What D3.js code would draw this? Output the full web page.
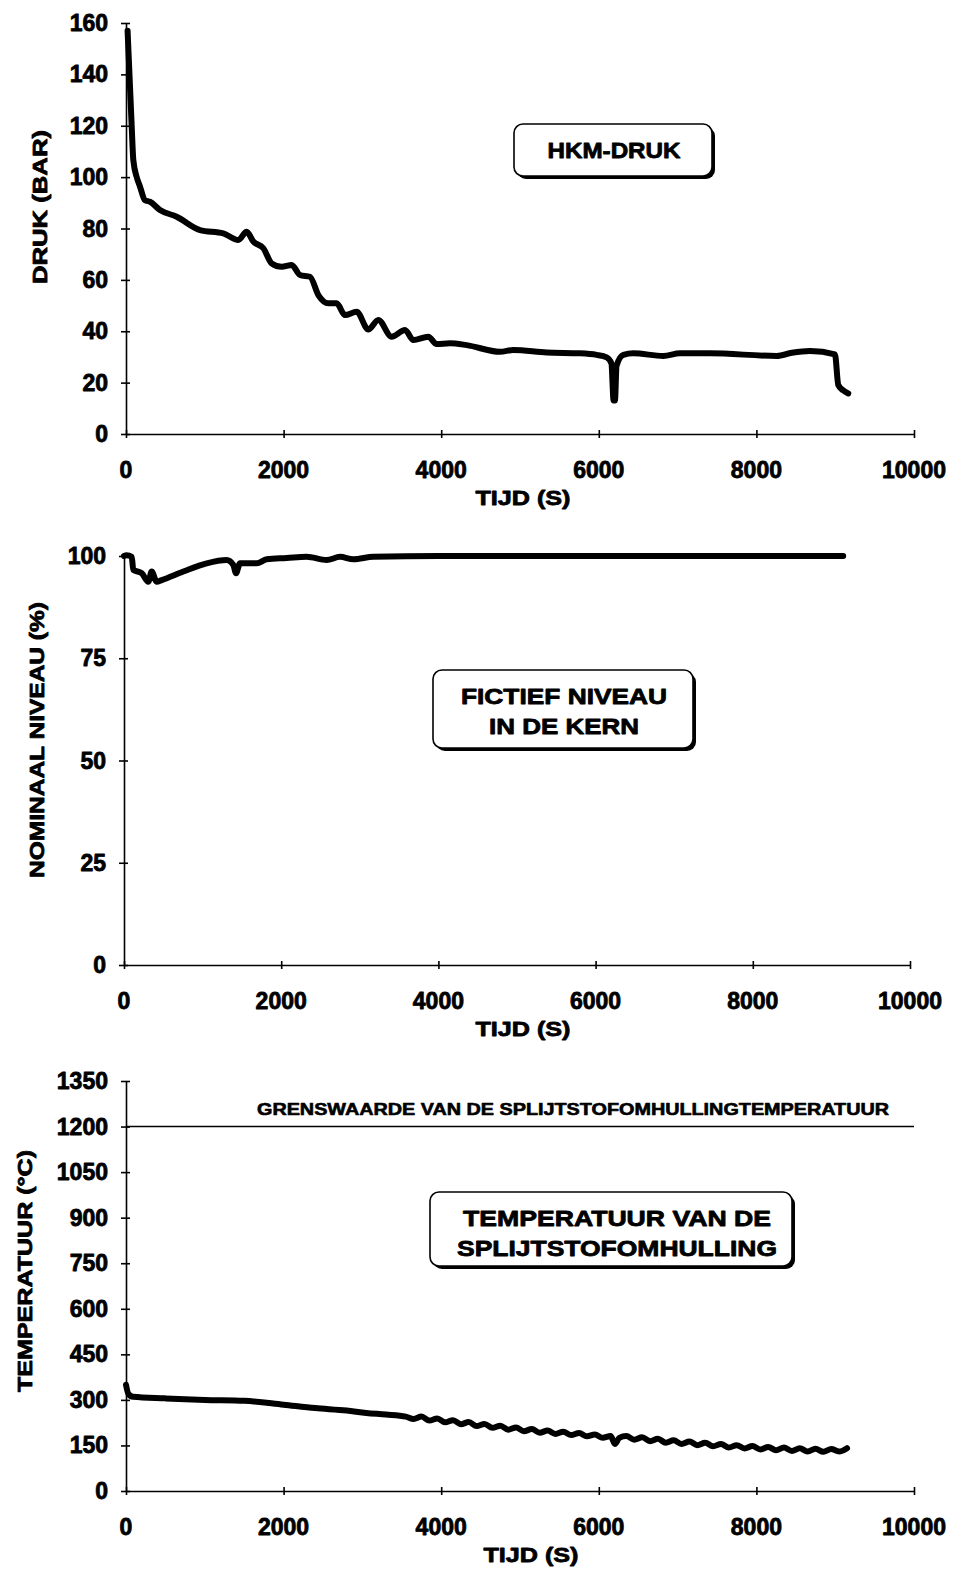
<!DOCTYPE html>
<html>
<head>
<meta charset="utf-8">
<script src="https://cdn.jsdelivr.net/npm/d3@7"></script>
<style>
  html, body { margin: 0; padding: 0; background: #fff; }
  svg { display: block; }
  text { font-family: "Liberation Sans", Arial, Helvetica, sans-serif; font-weight: bold; fill: #000;
         stroke: #000; stroke-width: 0.8px; stroke-linejoin: round; }
</style>
</head>
<body>
<svg id="chart" width="956" height="1570"></svg>
<script>
// ---- Data ----
// Panel 1: primary circuit pressure (bar) vs time (s)
const pressureTime = [20, 72, 93, 136, 178, 241, 305, 431, 643, 939, 1235, 1426, 1531, 1616, 1743, 1849, 1976, 2103, 2208, 2335, 2441, 2568, 2673, 2779, 2927, 3075, 3202, 3371, 3541, 3646, 3836, 3942, 4112, 4323, 4746, 4915, 5339, 5761, 5973, 6100, 6160, 6188, 6205, 6225, 6311, 6438, 6819, 7030, 7411, 8258, 8450, 8680, 8997, 9039, 9100, 9166];
const pressureBar  = [157, 120, 106.6, 100, 96.3, 91, 90.4, 87.2, 84.6, 79.4, 78.1, 75.5, 78.7, 74.9, 72.3, 66.4, 65.1, 65.8, 61.9, 61.2, 54.1, 50.9, 50.9, 46.3, 47.6, 40.7, 44.4, 37.9, 40.5, 36.6, 37.9, 35.0, 35.3, 34.6, 32.0, 32.7, 31.7, 31.4, 30.8, 29.8, 27.5, 13, 13, 26.5, 30.8, 31.4, 30.4, 31.4, 31.4, 30.4, 31.6, 32.3, 31.0, 19.1, 17, 15.8];

// Panel 2: nominal core level (%) vs time (s)
const levelTime = [0, 34, 98, 118, 225, 309, 352, 416, 480, 755, 1052, 1307, 1391, 1425, 1476, 1688, 1815, 2070, 2324, 2579, 2748, 2918, 3172, 4000, 9150];
const levelPct  = [100, 100.2, 99.8, 96.6, 95.8, 93.7, 96.2, 93.7, 94.1, 96.2, 98.2, 99.0, 97.8, 95.8, 98.2, 98.2, 99.2, 99.5, 99.8, 99.0, 99.8, 99.2, 99.8, 100, 100];

// Panel 3: fuel cladding temperature (°C) vs time (s)
const tempTime = [0, 30, 90, 500, 1000, 1500, 2000, 2400, 2800, 3050, 3300, 3550,
  3650, 3750, 3850, 3950, 4050, 4150, 4250, 4350, 4450, 4550, 4650, 4750, 4850, 4950,
  5050, 5150, 5250, 5350, 5450, 5550, 5650, 5750, 5850, 5950, 6050, 6150, 6205, 6260,
  6350, 6450, 6550, 6650, 6750, 6850, 6950, 7050, 7150, 7250, 7350, 7450, 7550, 7650,
  7750, 7850, 7950, 8050, 8150, 8250, 8350, 8450, 8550, 8650, 8750, 8850, 8950, 9050, 9150];
const tempC = [350, 320, 310, 305, 300, 297, 284, 273, 265, 257, 252, 245,
  237, 245, 232, 239, 226, 233, 220, 227, 214, 221, 208, 215, 202, 209,
  197, 204, 192, 199, 188, 195, 184, 191, 180, 186, 175, 181, 155, 175,
  181, 169, 177, 164, 172, 159, 167, 155, 163, 151, 159, 147, 155, 143,
  151, 140, 148, 137, 145, 134, 143, 132, 141, 130, 139, 129, 138, 130, 141];
const tempLimit = 1200;

// Tick labels
const timeTicks = [0, 2000, 4000, 6000, 8000, 10000];
const pressureTicks = [0, 20, 40, 60, 80, 100, 120, 140, 160];
const levelTicks = [0, 25, 50, 75, 100];
const tempTicks = [0, 150, 300, 450, 600, 750, 900, 1050, 1200, 1350];

// Texts
const xTitle = "TIJD (S)";
const pressureTitle = "DRUK (BAR)";
const levelTitle = "NOMINAAL NIVEAU (%)";
const tempTitle = "TEMPERATUUR (°C)";
const pressureLabel = ["HKM-DRUK"];
const levelLabel = ["FICTIEF NIVEAU", "IN DE KERN"];
const tempLabel = ["TEMPERATUUR VAN DE", "SPLIJTSTOFOMHULLING"];
const limitLabel = "GRENSWAARDE VAN DE SPLIJTSTOFOMHULLINGTEMPERATUUR";

// ---- Drawing ----
const svg = d3.select("#chart");

function panel(cfg) {
  const g = svg.append("g");
  const x = d3.scaleLinear().domain([0, 10000]).range([cfg.x0, cfg.x1]);
  const y = d3.scaleLinear().domain(cfg.yDomain).range([cfg.y0, cfg.y1]);

  // x axis with ticks crossing the line
  const xa = g.append("g").attr("transform", `translate(0,${cfg.y0})`)
    .call(d3.axisBottom(x).tickValues(timeTicks).tickSize(0).tickPadding(0).tickFormat(""));
  xa.select(".domain").attr("stroke", "#000").attr("stroke-width", 1.6);
  xa.selectAll(".tick line").attr("y1", -4).attr("y2", 4).attr("stroke", "#000").attr("stroke-width", 1.6);
  g.selectAll(".xlab").data(timeTicks).enter().append("text")
    .attr("x", d => x(d)).attr("y", cfg.y0 + 44)
    .attr("text-anchor", "middle").attr("font-size", 23)
    .text(d => d);

  // y axis
  const ya = g.append("g").attr("transform", `translate(${cfg.x0},0)`)
    .call(d3.axisLeft(y).tickValues(cfg.yTicks).tickSize(0).tickPadding(0).tickFormat(""));
  ya.select(".domain").attr("stroke", "#000").attr("stroke-width", 1.6);
  ya.selectAll(".tick line").attr("x1", -5).attr("x2", 4).attr("stroke", "#000").attr("stroke-width", 1.6);
  g.selectAll(".ylab").data(cfg.yTicks).enter().append("text")
    .attr("x", cfg.x0 - 18).attr("y", d => y(d) + 8)
    .attr("text-anchor", "end").attr("font-size", 23)
    .text(d => d);

  // axis titles
  g.append("text").attr("x", cfg.xTitleX).attr("y", cfg.y0 + 71)
    .attr("text-anchor", "middle").attr("font-size", 21)
    .attr("textLength", 95).attr("lengthAdjust", "spacingAndGlyphs")
    .text(xTitle);
  g.append("text")
    .attr("transform", `translate(${cfg.yTitleX},${cfg.yTitleY}) rotate(-90)`)
    .attr("text-anchor", "middle").attr("font-size", 21)
    .attr("textLength", cfg.yTitleLen).attr("lengthAdjust", "spacingAndGlyphs")
    .text(cfg.yTitle);

  return { g, x, y };
}

function labelBox(g, box, lines, lens) {
  g.append("rect").attr("x", box.x + 3).attr("y", box.y + 3)
    .attr("width", box.w).attr("height", box.h).attr("rx", 9)
    .attr("fill", "#000");
  g.append("rect").attr("x", box.x).attr("y", box.y)
    .attr("width", box.w).attr("height", box.h).attr("rx", 9)
    .attr("fill", "#fff").attr("stroke", "#000").attr("stroke-width", 1.6);
  lines.forEach((t, i) => {
    g.append("text").attr("x", box.cx).attr("y", box.ty + i * 30)
      .attr("text-anchor", "middle").attr("font-size", 22)
      .attr("textLength", lens[i]).attr("lengthAdjust", "spacingAndGlyphs")
      .text(t);
  });
}

function series(p, xs, ys, width) {
  const pts = xs.map((t, i) => [t, ys[i]]);
  p.g.append("path").datum(pts)
    .attr("fill", "none").attr("stroke", "#000")
    .attr("stroke-width", width)
    .attr("stroke-linejoin", "round").attr("stroke-linecap", "round")
    .attr("d", d3.line().x(d => p.x(d[0])).y(d => p.y(d[1])).curve(d3.curveMonotoneX));
}

// Panel 1
const p1 = panel({ x0: 126, x1: 914, y0: 434, y1: 23, yDomain: [0, 160], yTicks: pressureTicks,
  yTitle: pressureTitle, yTitleX: 47, yTitleY: 207, yTitleLen: 154, xTitleX: 523 });
labelBox(p1.g, { x: 514, y: 124, w: 198, h: 52, cx: 614, ty: 158 }, pressureLabel, [133]);
series(p1, pressureTime, pressureBar, 6);

// Panel 2
const p2 = panel({ x0: 124, x1: 910, y0: 965, y1: 556, yDomain: [0, 100], yTicks: levelTicks,
  yTitle: levelTitle, yTitleX: 44, yTitleY: 740, yTitleLen: 276, xTitleX: 523 });
labelBox(p2.g, { x: 433, y: 670, w: 260, h: 78, cx: 564, ty: 704 }, levelLabel, [206, 150]);
series(p2, levelTime, levelPct, 6);

// Panel 3
const p3 = panel({ x0: 126, x1: 914, y0: 1491, y1: 1081, yDomain: [0, 1350], yTicks: tempTicks,
  yTitle: tempTitle, yTitleX: 32, yTitleY: 1271, yTitleLen: 242, xTitleX: 531 });
p3.g.append("line")
  .attr("x1", p3.x(0)).attr("x2", p3.x(10000))
  .attr("y1", p3.y(tempLimit)).attr("y2", p3.y(tempLimit))
  .attr("stroke", "#000").attr("stroke-width", 1.6);
p3.g.append("text").attr("x", 573).attr("y", p3.y(tempLimit) - 12)
  .attr("text-anchor", "middle").attr("font-size", 16)
  .attr("textLength", 632).attr("lengthAdjust", "spacingAndGlyphs")
  .style("stroke-width", "0.6px")
  .text(limitLabel);
labelBox(p3.g, { x: 430, y: 1192, w: 362, h: 74, cx: 617, ty: 1226 }, tempLabel, [308, 320]);
series(p3, tempTime, tempC, 6);
</script>
</body>
</html>
